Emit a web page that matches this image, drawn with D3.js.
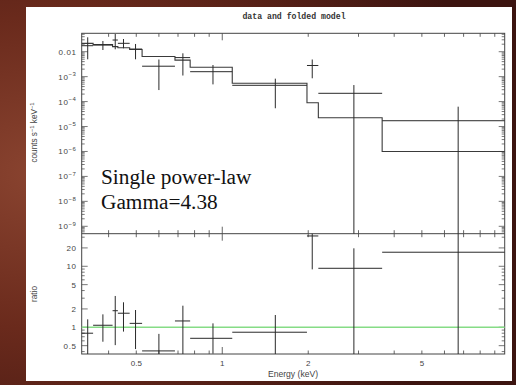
<!DOCTYPE html>
<html>
<head>
<meta charset="utf-8">
<script src="https://cdn.jsdelivr.net/npm/d3@7"></script>
<style>
  body { margin: 0; background: #4a1a12; }
  svg { display: block; }
</style>
</head>
<body>
<div id="chart"></div>
<script>
// spectral bins (keV)
const binLo  = [0.322, 0.353, 0.413, 0.431, 0.474, 0.524, 0.683, 0.772, 1.084, 1.98, 2.17, 3.63];
const binHi  = [0.353, 0.413, 0.431, 0.474, 0.524, 0.683, 0.772, 1.084, 1.98, 2.17, 3.63, 9.75];
const energy = [0.338, 0.382, 0.422, 0.451, 0.497, 0.600, 0.728, 0.928, 1.534, 2.066, 2.89, 6.70];

// counts s^-1 keV^-1 (0 = error bar runs off the axis)
const counts   = [0.0174, 0.0186, 0.0294, 0.0217, 0.0128, 0.00262, 0.0058, 0.00158, 4.5e-4, 0.0028, 2.15e-4, 1.71e-5];
const countsHi = [0.0378, 0.0269, 0.0512, 0.0323, 0.0204, 0.00487, 0.00863, 0.00293, 8.3e-4, 0.00487, 4.6e-4, 6.25e-5];
const countsLo = [0.00496, 0.0117, 0.0125, 0.0137, 0.00496, 2.9e-4, 0.00111, 4.9e-4, 5.4e-5, 8.6e-4, 0, 0];
const model    = [0.0215, 0.0192, 0.016, 0.0145, 0.0122, 0.0064, 0.0046, 0.00237, 5.4e-4, 9.0e-5, 2.26e-5, 1.0e-6];

// data / model
const ratio   = [0.80, 1.08, 1.87, 1.70, 1.16, 0.41, 1.27, 0.66, 0.83, 31.4, 9.27, 17.0];
const ratioHi = [1.35, 1.63, 3.26, 2.57, 1.92, 0.78, 2.26, 1.16, 1.59, 100, 19.7, 100];
const ratioLo = [0, 0.58, 0.51, 0.85, 0.44, 0, 0, 0.37, 0, 8.9, 0, 0];

// tick labels
const energyTicks = [0.5, 1, 2, 5];
const countTicks = [1e-2, 1e-3, 1e-4, 1e-5, 1e-6, 1e-7, 1e-8, 1e-9];
const countLabels = ['0.01', '-3', '-4', '-5', '-6', '-7', '-8', '-9'];
const ratioTicks = [0.5, 1, 2, 5, 10, 20];

const width = 516, height = 385;
const pLeft = 81.7, pRight = 504.7, pTop = 33.3, pMid = 233.7, pBottom = 354;

const svg = d3.select('#chart').append('svg')
  .attr('width', width)
  .attr('height', height);

// photo-like backdrop
const defs = svg.append('defs');
const grad = defs.append('radialGradient').attr('id', 'bg')
  .attr('cx', '8%').attr('cy', '45%').attr('r', '90%');
grad.append('stop').attr('offset', '0%').attr('stop-color', '#8a4430');
grad.append('stop').attr('offset', '45%').attr('stop-color', '#6a2a1c');
grad.append('stop').attr('offset', '100%').attr('stop-color', '#3c1410');
svg.append('rect').attr('width', width).attr('height', height).attr('fill', 'url(#bg)');
svg.append('rect').attr('x', 26).attr('y', 7).attr('width', 486).attr('height', 374).attr('fill', '#fff');

const x = d3.scaleLog().domain([0.322, 9.75]).range([pLeft, pRight]);
const yTop = d3.scaleLog().domain([5.05e-10, 0.0547]).range([pMid, pTop]).clamp(true);
const yRat = d3.scaleLog().domain([0.365, 34.2]).range([pBottom, pMid]).clamp(true);

const ink = '#2a2a2a';
const labelFont = 'Liberation Sans, Arial, sans-serif';

// title
svg.append('text')
  .attr('x', 294).attr('y', 19)
  .attr('text-anchor', 'middle')
  .style('font-family', 'Liberation Mono, monospace')
  .style('font-size', '8.2px')
  .style('font-weight', 'bold')
  .attr('fill', '#333')
  .text('data and folded model');

// inside ticks on one side
function ticksX(yPos, dir) {
  svg.append('g').selectAll('line').data(x.ticks()).join('line')
    .attr('x1', d => x(d)).attr('x2', d => x(d))
    .attr('y1', yPos)
    .attr('y2', d => yPos + dir * (Math.abs(Math.log10(d)) < 1e-9 ? 7 : 3.5))
    .attr('stroke', '#555').attr('stroke-width', 0.9);
}
function ticksY(scale, xPos, dir, isMajor) {
  svg.append('g').selectAll('line').data(scale.ticks()).join('line')
    .attr('y1', d => scale(d)).attr('y2', d => scale(d))
    .attr('x1', xPos)
    .attr('x2', d => xPos + dir * (isMajor(d) ? 6 : 3))
    .attr('stroke', '#555').attr('stroke-width', 0.8);
}
const isDecade = d => Math.abs(Math.log10(d) - Math.round(Math.log10(d))) < 1e-6;
const isRatioMajor = d => ratioTicks.some(t => Math.abs(t - d) < 1e-9);

ticksX(pTop, 1);
ticksX(pMid, -1);
ticksX(pMid, 1);
ticksX(pBottom, -1);
ticksY(yTop, pLeft, 1, isDecade);
ticksY(yTop, pRight, -1, isDecade);
ticksY(yRat, pLeft, 1, isRatioMajor);
ticksY(yRat, pRight, -1, isRatioMajor);

// frames
svg.append('rect').attr('x', pLeft).attr('y', pTop)
  .attr('width', pRight - pLeft).attr('height', pBottom - pTop)
  .attr('fill', 'none').attr('stroke', '#444').attr('stroke-width', 1);
svg.append('line').attr('x1', pLeft).attr('x2', pRight).attr('y1', pMid).attr('y2', pMid)
  .attr('stroke', '#444').attr('stroke-width', 1);

// y tick labels (top panel)
const topLabels = svg.append('g')
  .style('font-family', labelFont).style('font-size', '8px')
  .style('letter-spacing', '0.6px').attr('fill', '#444');
countTicks.forEach((t, i) => {
  const txt = topLabels.append('text')
    .attr('x', 76.5).attr('y', yTop(t) + 3)
    .attr('text-anchor', 'end');
  if (i === 0) {
    txt.text(countLabels[i]);
  } else {
    txt.append('tspan').text('10');
    txt.append('tspan').attr('dy', -3.6).style('font-size', '6px').text('\u2212' + countLabels[i].slice(1));
  }
});

// y tick labels (ratio panel)
svg.append('g')
  .style('font-family', labelFont).style('font-size', '8px')
  .style('letter-spacing', '0.6px').attr('fill', '#444')
  .selectAll('text').data(ratioTicks).join('text')
  .attr('x', 76.5).attr('y', d => yRat(d) + 3)
  .attr('text-anchor', 'end')
  .text(d => d);

// x tick labels
svg.append('g')
  .style('font-family', labelFont).style('font-size', '8px').attr('fill', '#444')
  .selectAll('text').data(energyTicks).join('text')
  .attr('x', d => x(d)).attr('y', 366)
  .attr('text-anchor', 'middle')
  .text(d => d);

// axis titles
svg.append('text')
  .attr('x', 293).attr('y', 376.5)
  .attr('text-anchor', 'middle')
  .style('font-family', labelFont).style('font-size', '8.6px').attr('fill', '#444')
  .text('Energy (keV)');

const yLab = svg.append('text')
  .attr('transform', 'translate(36.5,132.5) rotate(-90)')
  .attr('text-anchor', 'middle')
  .style('font-family', labelFont).style('font-size', '8.2px').attr('fill', '#444');
yLab.append('tspan').text('counts s');
yLab.append('tspan').attr('dy', -3).style('font-size', '5.8px').text('\u22121');
yLab.append('tspan').attr('dy', 3).text(' keV');
yLab.append('tspan').attr('dy', -3).style('font-size', '5.8px').text('\u22121');

svg.append('text')
  .attr('transform', 'translate(36.5,294) rotate(-90)')
  .attr('text-anchor', 'middle')
  .style('font-family', labelFont).style('font-size', '8.2px').attr('fill', '#444')
  .text('ratio');

// model step line
const idx = d3.range(binLo.length);
const stepPts = idx.map(i => [binLo[i], model[i]]).concat([[binHi[binHi.length - 1], model[model.length - 1]]]);
svg.append('path')
  .datum(stepPts)
  .attr('d', d3.line().x(d => x(d[0])).y(d => yTop(d[1])).curve(d3.curveStepAfter))
  .attr('fill', 'none').attr('stroke', '#3a3a3a').attr('stroke-width', 1.1);

// data crosses (top)
const topData = svg.append('g').attr('stroke', ink).attr('stroke-width', 1);
topData.selectAll('.h').data(idx).join('line').attr('class', 'h')
  .attr('x1', i => x(binLo[i])).attr('x2', i => x(binHi[i]))
  .attr('y1', i => yTop(counts[i])).attr('y2', i => yTop(counts[i]));
topData.selectAll('.v').data(idx).join('line').attr('class', 'v')
  .attr('x1', i => x(energy[i])).attr('x2', i => x(energy[i]))
  .attr('y1', i => yTop(countsHi[i])).attr('y2', i => yTop(countsLo[i]));

// unity line
svg.append('line')
  .attr('x1', pLeft).attr('x2', pRight)
  .attr('y1', yRat(1)).attr('y2', yRat(1))
  .attr('stroke', '#86dc86').attr('stroke-width', 1.4);

// ratio crosses
const ratData = svg.append('g').attr('stroke', ink).attr('stroke-width', 1);
ratData.selectAll('.h').data(idx).join('line').attr('class', 'h')
  .attr('x1', i => x(binLo[i])).attr('x2', i => x(binHi[i]))
  .attr('y1', i => yRat(ratio[i])).attr('y2', i => yRat(ratio[i]));
ratData.selectAll('.v').data(idx).join('line').attr('class', 'v')
  .attr('x1', i => x(energy[i])).attr('x2', i => x(energy[i]))
  .attr('y1', i => yRat(ratioHi[i])).attr('y2', i => yRat(ratioLo[i]));

// annotation
const note = svg.append('g')
  .style('font-family', 'Liberation Serif, Times New Roman, serif')
  .style('font-size', '21.3px').attr('fill', '#111');
note.append('text').attr('x', 101).attr('y', 184.3).text('Single power-law');
note.append('text').attr('x', 101).attr('y', 209.3).text('Gamma=4.38');
</script>
</body>
</html>
